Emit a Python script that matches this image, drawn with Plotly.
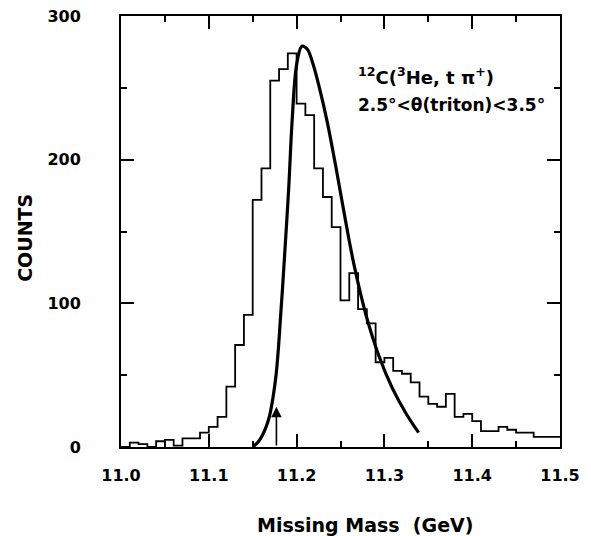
import numpy as np
import plotly.graph_objects as go

# Histogram: 0.01 GeV bins from 11.00 to 11.50
bin_start = 11.00
bin_width = 0.01
counts = [0, 3, 2, 0, 4, 5, 1, 6, 6, 10,
          14, 21, 42, 71, 92, 172, 194, 255, 263, 274,
          239, 231, 194, 174, 153, 102, 121, 96, 86, 59,
          62, 53, 51, 45, 35, 30, 28, 37, 21, 23,
          18, 11, 11, 14, 12, 10, 10, 7, 7, 7]

# Theoretical curve
curve_x = [11.150, 11.158, 11.168, 11.176, 11.182, 11.187, 11.191, 11.195,
           11.200, 11.206, 11.212, 11.218, 11.226, 11.235, 11.245, 11.255,
           11.265, 11.279, 11.294, 11.309, 11.325, 11.339]
curve_y = [0, 5, 19, 47, 93, 140, 180, 228,
           266, 279, 277, 268, 250, 226, 194, 160,
           128, 92, 63, 41, 23, 10]

arrow_x = 11.177
arrow_top = 28

x_ticks = [11.0, 11.1, 11.2, 11.3, 11.4, 11.5]
x_ticklabels = ["11.0", "11.1", "11.2", "11.3", "11.4", "11.5"]
y_ticks = [0, 100, 200, 300]
y_ticklabels = ["0", "100", "200", "300"]

n = len(counts)
edges = [round(bin_start + i * bin_width, 3) for i in range(n + 1)]
hx = edges
hy = counts + [counts[-1]]

fig = go.Figure()
fig.add_trace(go.Scatter(x=hx, y=hy, mode="lines", line=dict(shape="hv", color="black", width=1.8),
                         showlegend=False, hoverinfo="skip"))
fig.add_trace(go.Scatter(x=curve_x, y=curve_y, mode="lines",
                         line=dict(shape="spline", smoothing=1.0, color="black", width=3.2),
                         showlegend=False, hoverinfo="skip"))

fig.add_annotation(x=arrow_x, y=arrow_top, ax=arrow_x, ay=0, xref="x", yref="y", axref="x", ayref="y",
                   showarrow=True, arrowhead=2, arrowsize=1.3, arrowwidth=1.6, arrowcolor="black", text="")

fnt = "DejaVu Sans"
fig.add_annotation(x=11.268, y=258, xref="x", yref="y", xanchor="left", yanchor="middle", showarrow=False,
                   text="<b><sup>12</sup>C(<sup>3</sup>He, t π<sup>+</sup>)</b>",
                   font=dict(family=fnt, size=18, color="black"))
fig.add_annotation(x=11.268, y=238, xref="x", yref="y", xanchor="left", yanchor="middle", showarrow=False,
                   text="<b>2.5°<θ(triton)<3.5°</b>",
                   font=dict(family=fnt, size=17, color="black"))

# Axis titles
fig.add_annotation(x=0.556, y=-0.181, xref="paper", yref="paper", xanchor="center", yanchor="middle",
                   showarrow=False, text="<b>Missing Mass  (GeV)</b>",
                   font=dict(family=fnt, size=19, color="black"))
fig.add_annotation(x=-0.219, y=0.485, xref="paper", yref="paper", xanchor="center", yanchor="middle",
                   showarrow=False, text="<b>COUNTS</b>", textangle=-90,
                   font=dict(family=fnt, size=19, color="black"))

axis_common = dict(showline=True, linecolor="black", linewidth=2, mirror="allticks",
                   ticks="inside", tickcolor="black", tickwidth=1.6, showgrid=False, zeroline=False,
                   ticklabeloverflow="allow")

fig.update_xaxes(range=[11.0, 11.5], tickvals=x_ticks, ticktext=x_ticklabels, ticklen=13,
                 minor=dict(dtick=0.05, ticklen=6, tickcolor="black", tickwidth=1.6, ticks="inside"),
                 tickfont=dict(family=fnt, size=16, color="black", weight="bold"), ticklabelstandoff=13,
                 **axis_common)
fig.update_yaxes(range=[0, 300], tickvals=y_ticks, ticktext=y_ticklabels, ticklen=13,
                 minor=dict(dtick=50, ticklen=6, tickcolor="black", tickwidth=1.6, ticks="inside"),
                 tickfont=dict(family=fnt, size=16, color="black", weight="bold"), ticklabelstandoff=35,
                 **axis_common)

# page body has an 8px margin, so the figure is sized/offset to place the frame at the reference pixels
fig.update_layout(width=583, height=528, margin=dict(l=113, r=31, t=8, b=89, autoexpand=False),
                  plot_bgcolor="white", paper_bgcolor="white")
fig.write_html("out.html")
